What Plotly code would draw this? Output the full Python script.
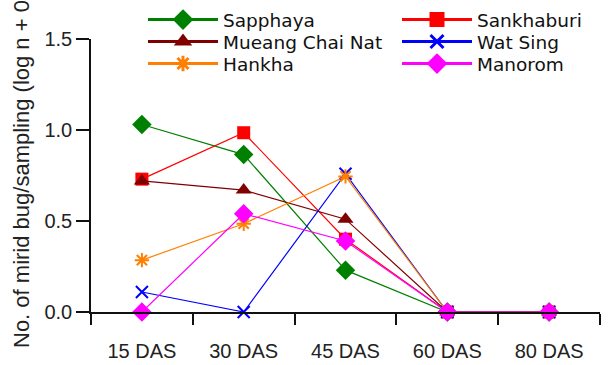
import plotly.graph_objects as go

categories = ["15 DAS", "30 DAS", "45 DAS", "60 DAS", "80 DAS"]
sapphaya = [1.03, 0.865, 0.23, 0.0, 0.0]
sankhaburi = [0.73, 0.985, 0.40, 0.0, 0.0]
mueang = [0.72, 0.67, 0.51, 0.0, 0.0]
wat_sing = [0.11, 0.0, 0.76, 0.0, 0.0]
hankha = [0.285, 0.485, 0.745, 0.0, 0.0]
manorom = [0.0, 0.54, 0.39, 0.0, 0.0]
ytick_vals = [0.0, 0.5, 1.0, 1.5]
y_title = "No. of mirid bug/sampling (log n + 0.5)"

series = [
    ("Sapphaya", sapphaya, "#008000", "diamond", 15, 18),
    ("Sankhaburi", sankhaburi, "#ff0000", "square", 13, 15),
    ("Mueang Chai Nat", mueang, "#800000", "triangle-up", 14, 16),
    ("Wat Sing", wat_sing, "#0000ff", "x-thin-open", 12, 13),
    ("Hankha", hankha, "#ff8000", "asterisk-open", 12, 13),
    ("Manorom", manorom, "#ff00ff", "diamond", 15, 18),
]

# legend slot: (column, row)
W, H = 612, 365
L, R, T, B = 91, 12, 39, 53
pw, ph = W - L - R, H - T - B
col_x = [(143 - L) / pw, (397 - L) / pw]
row_y = [20, 42, 64]
slots = [(0, 0), (1, 0), (0, 1), (1, 1), (0, 2), (1, 2)]

fig = go.Figure()
for name, vals, color, sym, size, lsize in series:
    open_sym = sym.endswith("open")
    fig.add_trace(go.Scatter(
        x=categories, y=vals, mode="lines+markers", name=name,
        line=dict(color=color, width=1.2),
        marker=dict(symbol=sym, size=size, color=color,
                    line=dict(color=color, width=2 if open_sym else 0)),
        showlegend=False, cliponaxis=False,
    ))

legend_layouts = {}
for i, (name, vals, color, sym, size, lsize) in enumerate(series):
    open_sym = sym.endswith("open")
    lid = "legend" if i == 0 else f"legend{i + 1}"
    fig.add_trace(go.Scatter(
        x=[None], y=[None], mode="lines+markers", name=name,
        line=dict(color=color, width=3),
        marker=dict(symbol=sym, size=lsize, color=color,
                    line=dict(color=color, width=3 if open_sym else 0)),
        showlegend=True, legend=lid,
    ))
    c, r = slots[i]
    legend_layouts[lid] = dict(
        x=col_x[c], y=(H - B - row_y[r]) / ph, xanchor="left", yanchor="middle",
        itemwidth=70, font=dict(size=18.5, color="#111111",
                                family="DejaVu Sans, Liberation Sans, sans-serif"),
        bgcolor="rgba(0,0,0,0)", borderwidth=0,
    )

fig.update_layout(
    width=W, height=H,
    margin=dict(l=L, r=R, t=T, b=B, autoexpand=False),
    paper_bgcolor="white", plot_bgcolor="white",
    font=dict(family="Liberation Sans, Arial, sans-serif", color="#222222"),
    showlegend=True,
    xaxis=dict(
        type="category", categoryorder="array", categoryarray=categories,
        range=[-0.5, 4.5], showline=True, linecolor="#111111", linewidth=1.5,
        ticks="outside", ticklen=11, tickwidth=1.5, tickcolor="#111111",
        tickson="boundaries", showgrid=False, zeroline=False,
        tickfont=dict(size=20, color="#222222"), ticklabelstandoff=20,
    ),
    yaxis=dict(
        range=[0, 1.5], tickvals=ytick_vals, tickformat=".1f",
        showline=True, linecolor="#111111", linewidth=1.5,
        ticks="outside", ticklen=13, tickwidth=1.5, tickcolor="#111111",
        showgrid=False, zeroline=False,
        tickfont=dict(size=20, color="#222222"),
    ),
    annotations=[dict(
        text=y_title, textangle=-90, showarrow=False,
        xref="paper", yref="paper",
        x=(21 - L) / pw, y=(H - B - 161) / ph, xanchor="center", yanchor="middle",
        font=dict(size=22, color="#222222"),
    )],
    **legend_layouts,
)

fig.write_html("out.html")
